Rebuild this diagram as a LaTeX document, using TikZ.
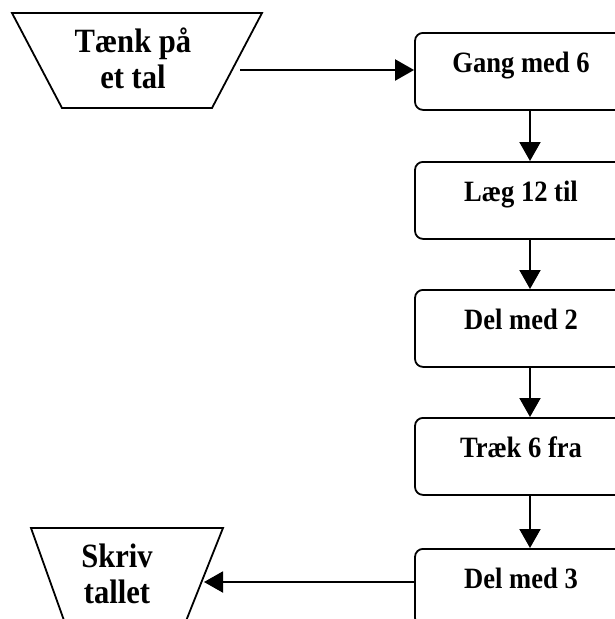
\documentclass[tikz,border=0pt]{standalone}
\usepackage{fontspec}
\setmainfont{Liberation Serif}[FakeStretch=0.9]
\usetikzlibrary{arrows.meta}
\tikzset{
  stepbox/.style={draw, line width=1.8pt, rounded corners=8pt, rectangle,
    minimum width=212pt, inner xsep=0pt, inner ysep=0pt,
    text height=40pt, text depth=37pt, anchor=north,
    font=\bfseries\fontsize{29.5}{31}\selectfont},
  iobox/.style={line width=1.8pt},
  iotext/.style={align=center, inner sep=0pt, anchor=base,
    font=\bfseries\fontsize{34}{35.5}\selectfont},
  conn/.style={line width=2pt, -{Triangle[length=19pt,width=21pt]}}
}
\begin{document}
\begin{tikzpicture}[x=1pt,y=-1pt]
\clip (0,0) rectangle (615,619);
\fill[white] (0,0) rectangle (615,619);
% input trapezoid
\draw[iobox] (12,13) -- (262,13) -- (212,108) -- (62,108) -- cycle;
\node[iotext] (t1) at (133,88) {Tænk på\\et tal};
% output trapezoid
\draw[iobox] (31,528) -- (223,528) -- (184,626) -- (66,626) -- cycle;
\node[iotext] (t2) at (117,603) {Skriv\\tallet};
% process boxes
\node[stepbox] (b1) at (521,32) {Gang med 6};
\node[stepbox] (b2) at (521,161) {Læg 12 til};
\node[stepbox] (b3) at (521,289) {Del med 2};
\node[stepbox] (b4) at (521,417) {Træk 6 fra};
\node[stepbox] (b5) at (521,548) {Del med 3};
% connectors
\coordinate (a1) at (240,70);
\coordinate (vx) at (530,0);
\coordinate (a2) at (204,582);
\draw[conn] (a1) -- (b1.west |- a1);
\draw[conn] (b1.south -| vx) -- (b2.north -| vx);
\draw[conn] (b2.south -| vx) -- (b3.north -| vx);
\draw[conn] (b3.south -| vx) -- (b4.north -| vx);
\draw[conn] (b4.south -| vx) -- (b5.north -| vx);
\draw[conn] (b5.west |- a2) -- (a2);
\end{tikzpicture}
\end{document}
